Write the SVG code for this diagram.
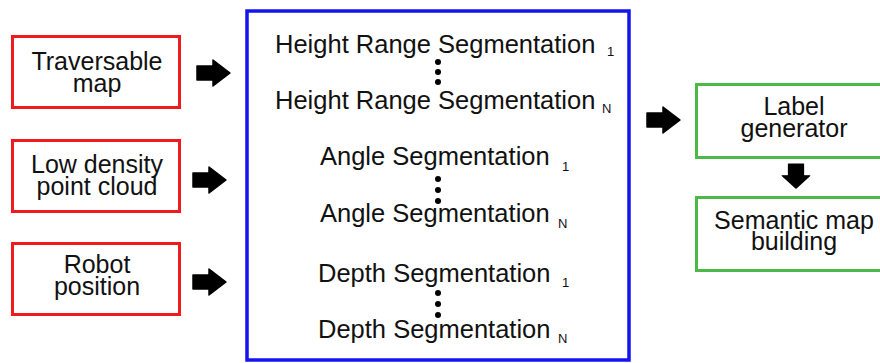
<svg xmlns="http://www.w3.org/2000/svg" width="880" height="363" viewBox="0 0 880 363">
<style>
text{font-family:"Liberation Sans",Arial,sans-serif;fill:#111;}
.lbl{font-size:25px;text-anchor:middle;}
.seg{font-size:25.5px;}
.sub{font-size:13px;}
.red{fill:#fff;stroke:#ee1c1c;stroke-width:3;}
.blue{fill:#fff;stroke:#1414f0;stroke-width:3.5;}
.green{fill:#fff;stroke:#4cb848;stroke-width:3;}
.dot{fill:#000;}
</style>
<defs>
<path id="arr" d="M0,-7 H16 V-13 L33,0 L16,13 V7 H0 Z" fill="#000" stroke="#000" stroke-width="1.5" stroke-linejoin="round"/>
</defs>
<rect width="880" height="363" fill="#fff"/>

<g id="traversable">
<rect class="red" x="12.5" y="36.5" width="167" height="71"/>
<text class="lbl" x="97" y="70">Traversable</text>
<text class="lbl" x="97" y="92">map</text>
</g>
<g id="lowdensity">
<rect class="red" x="12.5" y="140.5" width="167" height="71"/>
<text class="lbl" x="97" y="173">Low density</text>
<text class="lbl" x="97" y="195">point cloud</text>
</g>
<g id="robot">
<rect class="red" x="12.5" y="243.5" width="167" height="71"/>
<text class="lbl" x="97" y="273">Robot</text>
<text class="lbl" x="97" y="295">position</text>
</g>

<g id="segmentation">
<rect class="blue" x="247" y="11" width="382" height="349"/>
<text class="seg" x="275" y="53">Height Range Segmentation</text>
<text class="sub" x="607" y="56">1</text>
<circle class="dot" cx="438" cy="62" r="3"/><circle class="dot" cx="438" cy="72" r="3"/><circle class="dot" cx="438" cy="82" r="3"/>
<text class="seg" x="275" y="109">Height Range Segmentation</text>
<text class="sub" x="602" y="113">N</text>

<text class="seg" x="320" y="165">Angle Segmentation</text>
<text class="sub" x="562" y="171">1</text>
<circle class="dot" cx="438" cy="179" r="3"/><circle class="dot" cx="438" cy="190" r="3"/><circle class="dot" cx="438" cy="201" r="3"/>
<text class="seg" x="320" y="222">Angle Segmentation</text>
<text class="sub" x="558" y="228">N</text>

<text class="seg" x="318" y="282">Depth Segmentation</text>
<text class="sub" x="562" y="287">1</text>
<circle class="dot" cx="438" cy="293" r="3"/><circle class="dot" cx="438" cy="304" r="3"/><circle class="dot" cx="438" cy="315" r="3"/>
<text class="seg" x="318" y="338">Depth Segmentation</text>
<text class="sub" x="558" y="343">N</text>
</g>

<g id="labelgen">
<rect class="green" x="696.5" y="84.5" width="200" height="73"/>
<text class="lbl" x="794" y="115">Label</text>
<text class="lbl" x="794" y="137">generator</text>
</g>
<g id="semantic">
<rect class="green" x="696.5" y="197.5" width="200" height="73"/>
<text class="lbl" x="794" y="229">Semantic map</text>
<text class="lbl" x="794" y="250">building</text>
</g>

<g id="connectors">
<use href="#arr" transform="translate(197,73)"/>
<use href="#arr" transform="translate(193,180)"/>
<use href="#arr" transform="translate(193,282)"/>
<use href="#arr" transform="translate(647,120)"/>
<use href="#arr" transform="translate(796,164) rotate(90) scale(0.73,1.05)"/>
</g>
</svg>
